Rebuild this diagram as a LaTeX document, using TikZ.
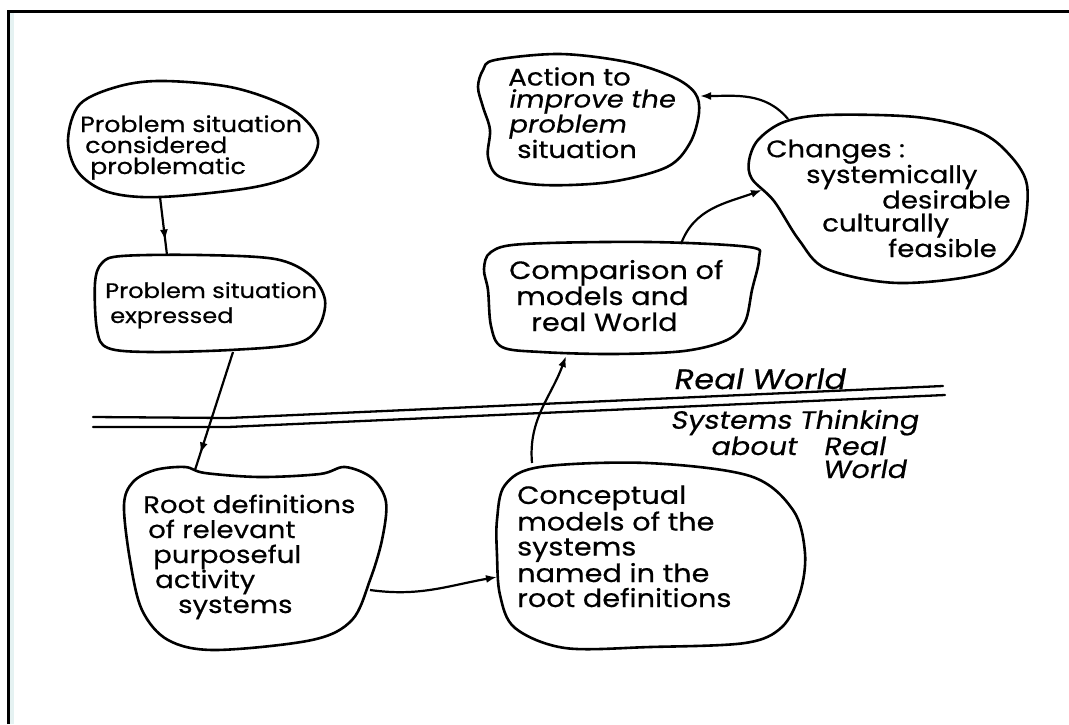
\documentclass[tikz,border=0pt]{standalone}
\usepackage{fontspec}
\setmainfont{Poppins}[FakeStretch=1.15, FakeBold=0.5]
\newfontfamily\slantfont{Poppins}[FakeStretch=1.15, FakeBold=0.5, FakeSlant=0.18]
\usetikzlibrary{arrows.meta,decorations.markings}

\begin{document}
\begin{tikzpicture}[x=1pt,y=-1pt,
  blob/.style={line width=2.6pt, line join=round},
  hold/.style={draw=none, rectangle, inner sep=0pt, outer sep=0pt},
  % multi-line texts are placed by the baseline of their last line
  hand/.style={inner sep=0pt, anchor=base west, align=left},
  tip/.style={-{Latex[length=11pt,width=8pt]}},
  link/.style={line width=2.2pt, tip},
  midlink/.style={line width=2.2pt, postaction={decorate},
    decoration={markings, mark=at position #1 with {\arrow{Latex[length=11pt,width=8pt]}}}},
  rule/.style={line width=2.3pt, line cap=round, line join=round},
]

% page and frame
\useasboundingbox (0,0) rectangle (1069,724);
\fill[white] (0,0) rectangle (1069,724);
\fill[teal!10] (9,12) rectangle (14,724);
\draw[line width=3pt] (8,724) -- (8,11) -- (1069,11);

% anchor boxes for the connectors
\node[hold, minimum width=250pt, minimum height=116pt] (psc)     at (193,139)     {};
\node[hold, minimum width=232pt, minimum height=97pt]  (pse)     at (209,303.5)   {};
\node[hold, minimum width=263pt, minimum height=184pt] (rootdef) at (254.5,558)   {};
\node[hold, minimum width=310pt, minimum height=185pt] (concept) at (650,555.5)   {};
\node[hold, minimum width=275pt, minimum height=112pt] (compare) at (621.5,298)   {};
\node[hold, minimum width=280pt, minimum height=168pt] (changes) at (889,199)     {};
\node[hold, minimum width=223pt, minimum height=131pt] (action)  at (588.5,119.5) {};

% hand-drawn outlines
\draw[blob] plot[smooth cycle, tension=0.55] coordinates {
  (68,140) (80,104) (120,86) (165,81) (235,88) (293,110) (318,140)
  (302,170) (255,187) (160,197) (108,192) (78,172)};
\draw[blob] plot[smooth cycle, tension=0.55] coordinates {
  (95,283) (102,263) (122,256) (200,255) (275,259) (310,275) (325,300)
  (318,328) (295,344) (230,350) (150,352) (108,348) (97,330)};
\draw[blob] plot[smooth cycle, tension=0.55] coordinates {
  (124,505) (133,482) (155,470) (185,467) (205,473) (260,477) (320,474)
  (345,467) (372,478) (386,502) (382,540) (370,580) (352,620) (312,640)
  (215,650) (168,640) (142,610) (130,560)};
\draw[blob] plot[smooth cycle, tension=0.55] coordinates {
  (497,520) (505,485) (540,467) (647,463) (750,476) (793,510) (805,553)
  (800,593) (782,627) (745,643) (650,647) (565,648) (515,628) (500,595)
  (497,555)};
\draw[blob] plot[smooth cycle, tension=0.55] coordinates {
  (484,269) (491,252) (524,244) (649,242) (749,247) (759,258) (752,290)
  (745,322) (727,340) (684,351) (613,354) (541,352) (502,347) (491,326)
  (488,290)};
\draw[blob] plot[smooth cycle, tension=0.55] coordinates {
  (749,161) (758,140) (784,122) (827,115) (916,117) (975,130) (1006,151)
  (1027,185) (1020,240) (988,272) (899,283) (827,269) (799,240) (774,201)
  (752,179)};
\draw[blob] plot[smooth cycle, tension=0.55] coordinates {
  (478,87) (483,70) (495,60) (560,54) (627,62) (673,77) (695,93) (699,113)
  (690,143) (667,167) (610,182) (543,185) (500,177) (488,157) (490,130)
  (483,107)};

% texts
\node[hand, font=\fontsize{22}{21}\selectfont] (psc-t) at (80,174)
  {Problem situation\\\hspace*{5pt}considered\\\hspace*{10pt}problematic};
\node[hand, font=\fontsize{21}{25}\selectfont] (pse-t) at (105,323)
  {Problem situation\\\hspace*{5pt}expressed};
\node[hand, font=\fontsize{24}{25}\selectfont] (rootdef-t) at (143,613)
  {Root definitions\\\hspace*{5pt}of relevant\\\hspace*{10pt}purposeful\\
   \hspace*{12pt}activity\\\hspace*{35pt}systems};
\node[hand, font=\fontsize{25}{25}\selectfont] (concept-t) at (517,607)
  {Conceptual\\models of the\\systems\\named in the\\root definitions};
\node[hand, font=\fontsize{25}{26}\selectfont] (compare-t) at (509,331)
  {Comparison of\\\hspace*{7pt}models and\\\hspace*{22pt}real World};
\node[hand, font=\fontsize{24}{23}\selectfont] (changes-t) at (766,257)
  {Changes :\\\hspace*{40pt}systemically\\\hspace*{116pt}desirable\\
   \hspace*{56pt}culturally\\\hspace*{122pt}feasible};
\node[hand, font=\fontsize{24}{22}\selectfont] (action-t) at (508,158)
  {Action to\\{\slantfont improve the}\\{\slantfont problem}\\\hspace*{9pt}situation};

% boundary between the two worlds
\draw[rule] (93,417) -- (228,418) -- (943,386);
\draw[rule] (93,427) -- (228,427) -- (945,395);
\node[hand, font=\fontsize{28}{22}\slantfont] (rw) at (673,389) {Real World};
\node[hand, font=\fontsize{25}{23}\slantfont] (st) at (670,478)
  {Systems Thinking\\\hspace*{40pt}\makebox[113pt][l]{about}Real\\\hspace*{152pt}World};

% connectors
\draw[midlink=0.75] ([xshift=-33pt]psc.south) -- ([xshift=-42pt]pse.north);
\draw[midlink=0.86] ([xshift=24pt]pse.south) -- ([xshift=-59.5pt,yshift=-4pt]rootdef.north);
\draw[link] ([xshift=-16pt,yshift=-32pt]rootdef.east)
  to[out=-8, in=190] ([xshift=2pt,yshift=-21.5pt]concept.west);
\draw[link] ([xshift=-118pt]concept.north)
  to[out=95, in=-110] ([xshift=-55.5pt,yshift=-2pt]compare.south);
\draw[link] ([xshift=59.5pt,yshift=-2pt]compare.north)
  to[out=70, in=200] ([xshift=13pt,yshift=9pt]changes.west);
\draw[link] ([xshift=-101pt,yshift=-4pt]changes.north)
  to[out=130, in=0] ([yshift=23.5pt]action.east);
\end{tikzpicture}
\end{document}
